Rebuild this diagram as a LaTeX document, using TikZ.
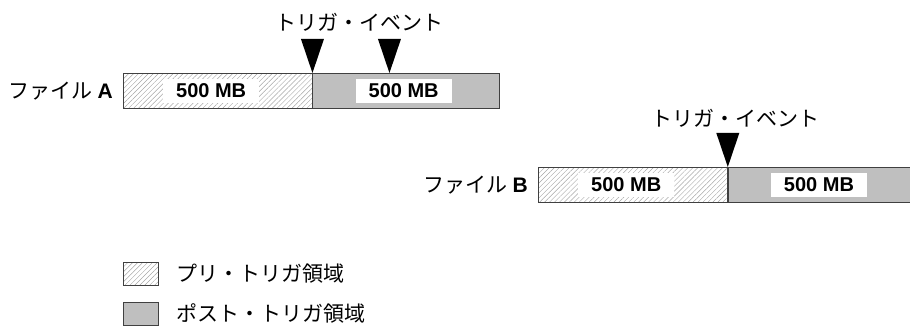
\documentclass[tikz,border=0pt]{standalone}
\usepackage{fontspec}
\setmainfont{Liberation Sans}
\newfontfamily\jpfont{Noto Sans CJK JP}
\usetikzlibrary{patterns.meta, positioning}

\tikzset{
  prearea/.style={draw=black!75, line width=0.8pt, inner sep=0pt, pattern={Lines[angle=45,distance=3.5pt,line width=0.45pt]}, pattern color=black!35},
  postarea/.style={draw=black!75, line width=0.8pt, inner sep=0pt, fill=black!25},
  sizebox/.style={fill=white, minimum width=96pt, minimum height=24pt, inner sep=0pt, font=\fontsize{20}{20}\selectfont\bfseries},
  jplabel/.style={font=\fontsize{21}{21}\selectfont\jpfont, inner sep=0pt},
}

\begin{document}
\begin{tikzpicture}[x=1pt, y=-1pt]
    \clip (0,0) rectangle (910,326);
    % the two files: pre part, post part, trigger marker
    \foreach \f/\x/\y/\w/\tx/\ty in {A/123/73/187/359/22, B/538/167/190/735/118} {
        \node[prearea, minimum width=189pt, minimum height=35pt, anchor=north west] (pre\f) at (\x,\y) {};
        \node[postarea, minimum width=\w pt, minimum height=35pt, anchor=west] (post\f) at (pre\f.east) {};
        \node[sizebox, right=40pt of pre\f.west] (presize\f) {500 MB};
        \node[sizebox, right=43pt of post\f.west] (postsize\f) {500 MB};
        \node[jplabel, left=10pt of pre\f.west] (name\f) {ファイル {\normalfont\bfseries\f}};
        \coordinate (trig\f) at (pre\f.north east);
        \fill (trig\f) -- ++(-11.5,-34) -- ++(23,0) -- cycle;
        \node[jplabel] (event\f) at (\tx,\ty) {トリガ・イベント};
    }
    % second marker on file A
    \coordinate (trigA2) at ([xshift=77pt]preA.north east);
    \fill (trigA2) -- ++(-11.5,-34) -- ++(23,0) -- cycle;

    % legend
    \node[prearea, minimum width=35pt, minimum height=23pt, anchor=north west] (keypre) at (123,262) {};
    \node[jplabel, right=17pt of keypre.east] (keypretext) {プリ・トリガ領域};
    \node[postarea, minimum width=35pt, minimum height=23pt, anchor=north west] (keypost) at (123,302) {};
    \node[jplabel, right=17pt of keypost.east] (keyposttext) {ポスト・トリガ領域};
\end{tikzpicture}
\end{document}
